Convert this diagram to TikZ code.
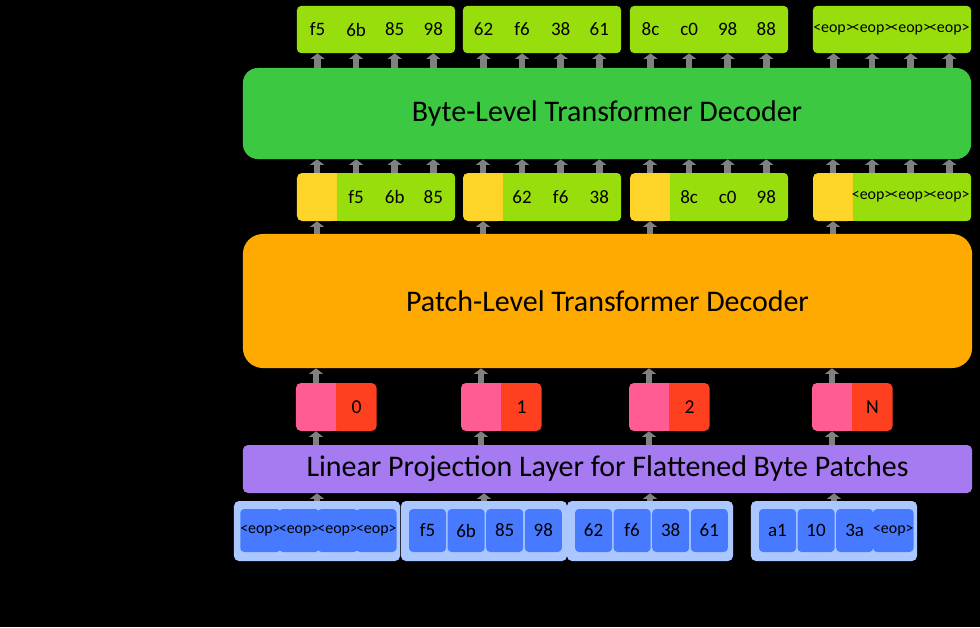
\documentclass[tikz,border=0pt]{standalone}
\usepackage{fontspec}
\setmainfont{Carlito}
\usepackage{xcolor}
\usetikzlibrary{arrows.meta, positioning}

\definecolor{bytegreen}{RGB}{152,222,12}
\definecolor{decgreen}{RGB}{60,200,64}
\definecolor{patchorange}{RGB}{255,170,0}
\definecolor{slotyellow}{RGB}{255,212,40}
\definecolor{embpink}{RGB}{255,92,148}
\definecolor{posred}{RGB}{255,64,32}
\definecolor{projpurple}{RGB}{166,122,240}
\definecolor{patchblue}{RGB}{170,200,255}
\definecolor{byteblue}{RGB}{72,122,255}
\definecolor{arrowgray}{RGB}{128,128,128}

\newcommand\layerfont{\fontsize{21.3}{25}\selectfont}
\newcommand\cellfont{\fontsize{13.5}{16}\selectfont}
\newcommand\eop{{\fontsize{11.3}{13}\selectfont <eop>}}

\begin{document}
\begin{tikzpicture}[
    x=0.025cm, y=-0.025cm,
    layer/.style={rounded corners=#1, inner sep=0, font=\layerfont, text=black},
    group/.style={rounded corners=0.1cm, inner sep=0, minimum height=#1},
    cell/.style={inner sep=0, minimum width=0.965cm, minimum height=1.175cm, font=\cellfont},
    halfbox/.style={rounded corners=0.125cm, inner sep=0, minimum width=1cm, minimum height=1.2cm, font=\cellfont},
    bytebox/.style={fill=byteblue, rounded corners=0.1cm, inner sep=0, minimum width=0.925cm, minimum height=1.075cm, font=\cellfont},
    uparrow/.style={draw=arrowgray, line width=4.8pt, -{Triangle[width=10pt, length=4pt]}}
]
    \useasboundingbox (0,0) rectangle (980,627);
    \fill[black] (0,0) rectangle (980,627);

    % the three layers
    \node[layer=0.375cm, fill=decgreen, minimum width=18.2cm, minimum height=2.275cm] (bytedec) at (607,113.5) {Byte-Level Transformer Decoder};
    \node[layer=0.5cm, fill=patchorange, minimum width=18.225cm, minimum height=3.35cm] (patchdec) at (607.5,301) {Patch-Level Transformer Decoder};
    \node[layer=0.125cm, fill=projpurple, minimum width=18.225cm, minimum height=1.2cm] (proj) at (607.5,469) {Linear Projection Layer for Flattened Byte Patches};

    % output bytes
    \foreach \g/\s/\ta/\tb/\tc/\td in {1/297/f5/6b/85/98, 2/463/62/f6/38/61, 3/630/8c/c0/98/88, 4/813/\eop/\eop/\eop/\eop} {
        \node[group=1.175cm, fill=bytegreen, minimum width=3.95cm] (out\g) at ({\s+79},29.5) {};
        \foreach \t [count=\i] in {\ta,\tb,\tc,\td}
            \node[cell] (out\g-\i) at ({\s+20.5+38.6*(\i-1)},29.5) {\t};
        \foreach \i in {1,...,4}
            \draw[uparrow] (out\g-\i |- bytedec.north) -- (out\g-\i.south);
    }

    % patch slots and shifted bytes
    \foreach \g/\s/\ta/\tb/\tc in {1/297/f5/6b/85, 2/463/62/f6/38, 3/630/8c/c0/98, 4/813/\eop/\eop/\eop} {
        \node[halfbox, fill=slotyellow] (slot\g) at ({\s+20},197) {};
        \fill[slotyellow] (slot\g.north) rectangle (slot\g.south east);
        \fill[bytegreen] (slot\g.north east) rectangle ([xshift=0.25cm]slot\g.south east);
        \node[group=1.2cm, fill=bytegreen, minimum width=2.95cm] (mid\g) at ({\s+99},197) {};
        \foreach \t [count=\i from 2] in {\ta,\tb,\tc}
            \node[cell] (mid\g-\i) at ({\s+20.5+38.6*(\i-1)},197) {\t};
        \draw[uparrow] (slot\g |- patchdec.north) -- (slot\g.south);
        \draw[uparrow] (slot\g.north) -- (bytedec.south -| slot\g);
        \foreach \i in {2,3,4}
            \draw[uparrow] (mid\g-\i.north) -- (bytedec.south -| mid\g-\i);
    }

    % patch embeddings + positions
    \foreach \g/\p/\n in {1/296/0, 2/461/1, 3/629/2, 4/812/N} {
        \node[halfbox, fill=embpink] (emb\g) at ({\p+20},407) {};
        \fill[embpink] (emb\g.north) rectangle (emb\g.south east);
        \fill[posred] (emb\g.north east) rectangle ([xshift=0.5cm]emb\g.south east);
        \node[halfbox, fill=posred, right=0pt of emb\g, font=\fontsize{14}{16}\selectfont] (pos\g) {\n};
        \draw[uparrow] (emb\g.north) -- (patchdec.south -| emb\g);
        \draw[uparrow] (emb\g |- proj.north) -- (emb\g.south);
    }

    % byte patches
    \foreach \g/\b/\ta/\tb/\tc/\td in {1/234/\eop/\eop/\eop/\eop, 2/401/f5/6b/85/98, 3/567/62/f6/38/61, 4/751/a1/10/3a/\eop} {
        \node[group=1.5cm, fill=patchblue, rounded corners=0.125cm, minimum width=4.15cm] (patch\g) at ({\b+83},531) {};
        \foreach \t [count=\i] in {\ta,\tb,\tc,\td}
            \node[bytebox] (byte\g-\i) at ({\b+26.5+38.6*(\i-1)},530.5) {\t};
        \draw[uparrow] (patch\g.north) -- (proj.south -| patch\g);
    }
\end{tikzpicture}
\end{document}
